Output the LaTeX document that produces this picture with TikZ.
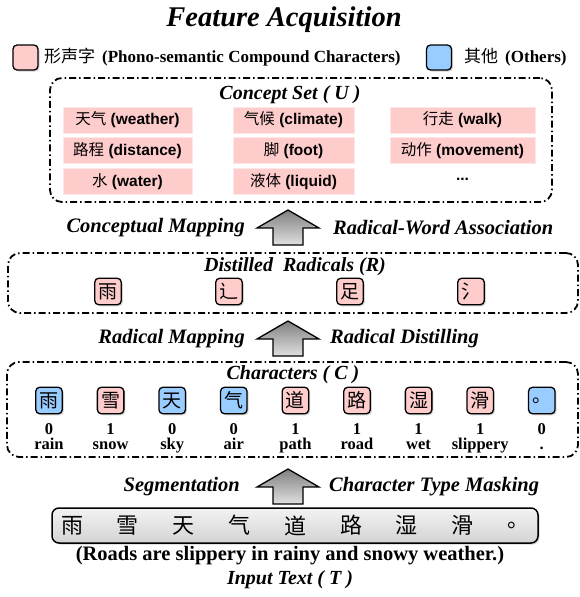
\documentclass[tikz,border=0pt]{standalone}
\usepackage{fontspec}
\setmainfont{Liberation Serif}
\setsansfont{Liberation Sans}
\newfontfamily\zhfont{Noto Sans CJK SC}
\usetikzlibrary{shadows}
\definecolor{phonopink}{HTML}{FFCCCC}
\definecolor{otherblue}{HTML}{99CCFF}
\newcommand\zh[1]{{\zhfont\mdseries #1}}
\tikzset{
  groupbox/.style={draw, line width=1.8pt, rounded corners=12pt, dash pattern=on 7pt off 3pt on 1.5pt off 3pt, inner sep=0pt},
  boxtitle/.style={font=\fontsize{20}{22}\selectfont\bfseries\itshape, inner sep=0pt},
  steplabel/.style={font=\fontsize{20.5}{22}\selectfont\bfseries\itshape, inner sep=0pt},
  charbox/.style={draw, line width=1.3pt, rounded corners=4pt, minimum size=26.5pt, inner sep=0pt,
    font=\zhfont\fontsize{19}{19}\selectfont, drop shadow={opacity=.35, shadow xshift=1.5pt, shadow yshift=-1.5pt}},
  pinkchar/.style={charbox, fill=phonopink},
  bluechar/.style={charbox, fill=otherblue},
  concept/.style={fill=phonopink, draw=phonopink!50, minimum height=26pt, inner sep=0pt,
    font=\sffamily\bfseries\fontsize{15.5}{17}\selectfont},
  charinfo/.style={font=\fontsize{16.5}{17}\selectfont\bfseries, inner sep=0pt},
  flowarrow/.style={draw, line width=1.3pt, top color=black!50, bottom color=black!12},
}
\begin{document}
\begin{tikzpicture}[x=1pt,y=-1pt]
\useasboundingbox (0,0) rectangle (580,597);

% title and legend
\node[font=\fontsize{28.5}{30}\selectfont\bfseries\itshape, inner sep=0pt, anchor=base] (title) at (284,26) {Feature Acquisition};
\node[pinkchar, minimum size=25pt] (legpink) at (25.5,57.5) {};
\node[anchor=west, inner sep=0pt, font=\fontsize{17}{18}\selectfont\bfseries] (legpinktxt) at (44,57.5)
  {\zh{形声字}\hspace{7pt}(Phono-semantic Compound Characters)};
\node[bluechar, minimum size=25pt] (legblue) at (439,57.5) {};
\node[anchor=west, inner sep=0pt, font=\fontsize{17}{18}\selectfont\bfseries] (legbluetxt) at (464,57.5)
  {\zh{其他}\hspace{7pt}(Others)};

% concept set
\node[groupbox, minimum width=502pt, minimum height=124pt] (conceptset) at (301,140) {};
\node[boxtitle] (conceptttl) at (290,95) {Concept Set ( U )};
\node[concept, minimum width=129pt] (u11) at (127.5,120) {\zh{天气} (weather)};
\node[concept, minimum width=129pt] (u21) at (127.5,150.5) {\zh{路程} (distance)};
\node[concept, minimum width=129pt] (u31) at (127.5,181.5) {\zh{水} (water)};
\node[concept, minimum width=121pt] (u12) at (293.5,120) {\zh{气候} (climate)};
\node[concept, minimum width=121pt] (u22) at (293.5,150.5) {\zh{脚} (foot)};
\node[concept, minimum width=121pt] (u32) at (293.5,181.5) {\zh{液体} (liquid)};
\node[concept, minimum width=145pt] (u13) at (462.5,120) {\zh{行走} (walk)};
\node[concept, minimum width=145pt] (u23) at (462.5,150.5) {\zh{动作} (movement)};
\node[concept, fill=none, draw=none] (u33) at (462.5,179) {...};

% distilled radicals
\node[groupbox, minimum width=570pt, minimum height=60pt] (radicalset) at (293,283) {};
\node[boxtitle] (radicalttl) at (295,267) {Distilled\ \ Radicals (R)};
\foreach \rad [count=\i] in {雨,辶,足,氵}
  \node[pinkchar] (r\i) at ({108+121*(\i-1)},291.5) {\rad};

% characters
\node[groupbox, minimum width=571pt, minimum height=95pt] (charset) at (292.5,409.5) {};
\node[boxtitle] (charttl) at (293,375) {Characters ( C )};
\foreach \ch/\kind/\bit/\gloss [count=\i] in {雨/bluechar/0/rain, 雪/pinkchar/1/snow, 天/bluechar/0/sky, 气/bluechar/0/air,
    道/pinkchar/1/path, 路/pinkchar/1/road, 湿/pinkchar/1/wet, 滑/pinkchar/1/slippery, 。/bluechar/0/.}
{
  \node[\kind] (c\i) at ({49+61.6*(\i-1)},400.5) {\ch};
  \node[charinfo] (b\i) at ({49+61.6*(\i-1)},429) {\bit};
  \node[charinfo] (g\i) at ({49+61.6*(\i-1)},446) {\strut\gloss};
}

% input text
\node[draw, line width=1.5pt, rounded corners=7pt, minimum width=486pt, minimum height=35pt, inner sep=0pt,
  top color=black!5, bottom color=black!17, drop shadow={opacity=.35, shadow xshift=1.5pt, shadow yshift=-1.5pt}] (input) at (295,525.5) {};
\foreach \ch [count=\i] in {雨,雪,天,气,道,路,湿,滑,。}
  \node[font=\zhfont\fontsize{22}{22}\selectfont, inner sep=0pt] (t\i) at ({72+55.8*(\i-1)},525.5) {\ch};
\node[font=\fontsize{20.5}{22}\selectfont\bfseries, inner sep=0pt] (gloss) at (290,556) {(Roads are slippery in rainy and snowy weather.)};
\node[boxtitle] (inputttl) at (290,580) {Input Text ( T )};

% block arrows between the levels
\foreach \yb in {245,356,504}
  \draw[flowarrow] (273,\yb) -- (273,\yb-17) -- (257,\yb-17) -- (288,\yb-35) -- (319,\yb-17) -- (303,\yb-17) -- (303,\yb) -- cycle;

\node[steplabel, anchor=east] (map1) at (245,228) {Conceptual Mapping};
\node[steplabel, anchor=west] (asso) at (333,228) {Radical-Word Association};
\node[steplabel, anchor=east] (map2) at (245,339) {Radical Mapping};
\node[steplabel, anchor=west] (dist) at (330,339) {Radical Distilling};
\node[steplabel, anchor=east] (segm) at (240,487) {Segmentation};
\node[steplabel, anchor=west] (mask) at (329,487) {Character Type Masking};
\end{tikzpicture}
\end{document}
